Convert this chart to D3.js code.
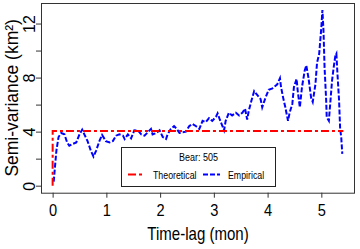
<html>
<head>
<script src="https://d3js.org/d3.v7.min.js"></script>
<style>
  body { margin: 0; background: #fff; }
  text { font-family: "Liberation Sans", Arial, sans-serif; }
</style>
</head>
<body>
<script>
// empirical semi-variance
var lag = [0.02, 0.07, 0.11, 0.16, 0.22, 0.27, 0.31, 0.38, 0.44, 0.50, 0.55, 0.59, 0.65, 0.71, 0.76,
  0.81, 0.87, 0.92, 0.99, 1.06, 1.12, 1.18, 1.24, 1.31, 1.34, 1.40, 1.46, 1.52, 1.59, 1.65, 1.71,
  1.77, 1.83, 1.86, 1.93, 1.99, 2.05, 2.11, 2.14, 2.20, 2.26, 2.31, 2.36, 2.42, 2.48, 2.54, 2.60,
  2.67, 2.73, 2.79, 2.85, 2.91, 2.97, 3.04, 3.07, 3.11, 3.16, 3.19, 3.22, 3.28, 3.34, 3.41, 3.47,
  3.53, 3.58, 3.62, 3.65, 3.70, 3.75, 3.81, 3.87, 3.90, 3.96, 4.02, 4.09, 4.15, 4.18, 4.23, 4.25,
  4.29, 4.33, 4.38, 4.41, 4.46, 4.49, 4.54, 4.56, 4.60, 4.64, 4.69, 4.72, 4.76, 4.81, 4.84, 4.89,
  4.92, 4.96, 5.00, 5.02, 5.04, 5.06, 5.09, 5.10, 5.14, 5.17, 5.20, 5.23, 5.26, 5.28, 5.30, 5.33,
  5.35, 5.37, 5.39];
var semivar = [0.3, 2.6, 3.6, 3.9, 3.8, 3.2, 2.96, 3.1, 3.2, 3.8, 4.15, 3.8, 3.3, 2.6, 2.15,
  2.6, 3.3, 3.75, 3.3, 3.2, 3.3, 3.7, 3.8, 3.7, 3.45, 3.8, 3.5, 4.1, 4.07, 3.8, 3.7,
  3.95, 4.2, 3.8, 3.9, 4.1, 3.6, 3.45, 3.8, 4.2, 4.4, 4.2, 3.9, 3.95, 4.0, 4.4, 4.57,
  4.4, 4.2, 4.8, 4.7, 5.0, 4.8, 5.1, 5.35, 4.9, 4.4, 4.1, 4.8, 5.4, 5.2, 5.4, 5.2,
  5.4, 5.7, 4.9, 5.55, 6.3, 7.0, 6.7, 6.4, 5.8, 6.5, 7.1, 7.2, 7.4, 7.5, 7.95, 7.3,
  6.5, 5.8, 4.8, 5.4, 6.05, 7.3, 7.9, 7.04, 5.8, 7.3, 8.5, 8.9, 8.0, 6.5, 6.2, 7.5,
  9.1, 9.76, 11.7, 13.0, 11.5, 8.76, 6.3, 5.06, 4.8, 6.3, 7.8, 8.76, 9.6, 9.76, 8.27, 6.3,
  4.2, 3.6, 2.35];

// fitted model
var theoLag = [0, 0.001, 5.41];
var theoVal = [0, 4.05, 4.05];

var xTicks = [0, 1, 2, 3, 4, 5];
var yTicks = [0, 2, 4, 6, 8, 10, 12];
var yLabels = [0, 4, 8, 12];
var bear = "505";

var W = 360, H = 249;
var L = 41, R = 355, T = 3, B = 192.7;
var squeeze = 0.86; // the source picture is a little narrow

var svg = d3.select("body").append("svg")
    .attr("width", W)
    .attr("height", H);

var x = d3.scaleLinear().domain([-0.2164, 5.6264]).range([L, R]);
var y = d3.scaleLinear().domain([-0.52, 13.52]).range([B, T]);

// axes
var xAxis = svg.append("g")
    .attr("transform", "translate(0," + B + ")")
    .call(d3.axisBottom(x).tickValues(xTicks).tickSize(5).tickPadding(5).tickFormat(d3.format("d")));
xAxis.select(".domain").remove();
xAxis.selectAll("text")
    .style("font-size", "17px")
    .attr("y", 0).attr("dy", 0)
    .attr("transform", "translate(0,23) scale(" + squeeze + ",1)");

var yAxis = svg.append("g")
    .attr("transform", "translate(" + L + ",0)")
    .call(d3.axisLeft(y).tickValues(yTicks).tickSize(5)
        .tickFormat(function(d) { return yLabels.indexOf(d) >= 0 ? d : ""; }));
yAxis.select(".domain").remove();
yAxis.selectAll("text")
    .style("font-size", "16px")
    .attr("text-anchor", "middle")
    .attr("x", 0).attr("dy", 0)
    .attr("transform", "translate(-6,0) rotate(-90)");

svg.selectAll(".tick line").attr("stroke", "#333");

// lines
var line = d3.line().x(function(d) { return x(d[0]); }).y(function(d) { return y(d[1]); });

svg.append("path")
    .datum(lag.map(function(d, i) { return [d, semivar[i]]; }))
    .attr("d", line)
    .attr("fill", "none")
    .attr("stroke", "#0000ff")
    .attr("stroke-width", 2)
    .attr("stroke-dasharray", "5,2");

svg.append("path")
    .datum(theoLag.map(function(d, i) { return [d, theoVal[i]]; }))
    .attr("d", line)
    .attr("fill", "none")
    .attr("stroke", "#ff0000")
    .attr("stroke-width", 2)
    .attr("stroke-dasharray", "8,3,3,3");

// box
svg.append("rect")
    .attr("x", L + 0.5).attr("y", T + 0.5)
    .attr("width", R - L - 1).attr("height", B - T)
    .attr("fill", "none")
    .attr("stroke", "#333");

// axis titles
svg.append("g")
    .attr("transform", "translate(" + (L + R) / 2 + ",240) scale(" + squeeze + ",1)")
  .append("text")
    .attr("text-anchor", "middle")
    .style("font-size", "17.5px")
    .text("Time-lag (mon)");

svg.append("text")
    .attr("transform", "translate(18," + (T + B) / 2 + ") rotate(-90)")
    .attr("text-anchor", "middle")
    .style("font-size", "17.5px")
    .text("Semi-variance (km²)");

// legend
var lg = svg.append("g");
lg.append("rect")
    .attr("x", 121.5).attr("y", 147.5)
    .attr("width", 154).attr("height", 39)
    .attr("fill", "white")
    .attr("stroke", "#222");
lg.append("g")
    .attr("transform", "translate(198.5,161) scale(0.82,1)")
  .append("text")
    .attr("text-anchor", "middle")
    .style("font-size", "11px")
    .text("Bear: " + bear);

var items = [
  {label: "Theoretical", color: "#ff0000", dash: "8,3,3,3", x: 128},
  {label: "Empirical", color: "#0000ff", dash: "5,2", x: 203}
];
items.forEach(function(it) {
  lg.append("line")
    .attr("x1", it.x).attr("x2", it.x + 17)
    .attr("y1", 174.5).attr("y2", 174.5)
    .attr("stroke", it.color)
    .attr("stroke-width", 2)
    .attr("stroke-dasharray", it.dash);
  lg.append("g")
    .attr("transform", "translate(" + (it.x + 25) + ",178.5) scale(0.8,1)")
  .append("text")
    .style("font-size", "11px")
    .text(it.label);
});
</script>
</body>
</html>
